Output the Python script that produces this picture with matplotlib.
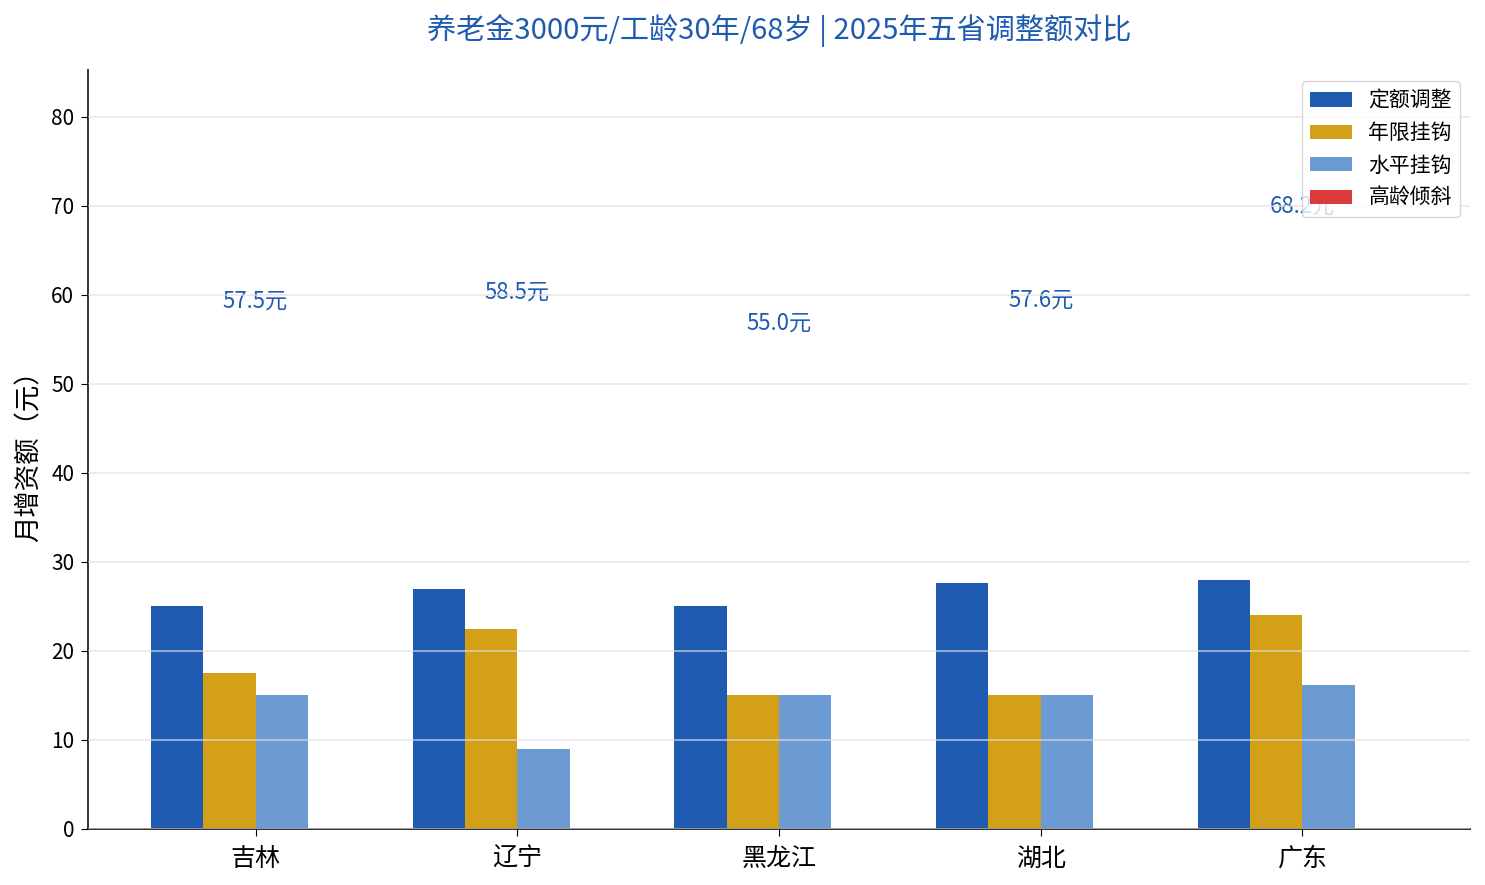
import numpy as np
import matplotlib
matplotlib.use("Agg")
import matplotlib.pyplot as plt

plt.rcParams['font.family'] = ['Noto Sans CJK SC', 'DejaVu Sans']

# 数据
provinces = ["吉林", "辽宁", "黑龙江", "湖北", "广东"]
series_names = ["定额调整", "年限挂钩", "水平挂钩", "高龄倾斜"]
fixed = [25.0, 27.0, 25.0, 27.6, 28.0]
years = [17.5, 22.5, 15.0, 15.0, 24.0]
level = [15.0, 9.0, 15.0, 15.0, 16.2]
elder = [0.0, 0.0, 0.0, 0.0, 0.0]
colors = ["#1f5bb0", "#d4a017", "#6b9bd2", "#d93a3a"]

values = [fixed, years, level, elder]
totals = np.sum(values, axis=0)

fig = plt.figure(figsize=(14.85, 8.85), dpi=100)
ax = fig.add_axes([0.0593, 0.0633, 0.9306, 0.8576])

x = np.arange(len(provinces))
width = 0.2
for i, (name, vals) in enumerate(zip(series_names, values)):
    offset = (i - 1.5) * width
    ax.bar(x + offset, vals, width, label=name, color=colors[i], zorder=2)

# 总额标注
for xi, t in zip(x, totals):
    ax.text(xi, t + 1.8, f"{t:.1f}元", ha="center", va="center",
            fontsize=16, color="#1f5bb0", zorder=1)

ax.set_ylim(0, totals.max() * 1.25)
ax.set_xticks(x)
ax.set_xticklabels(provinces, fontsize=18)
ax.tick_params(axis="x", length=5, pad=7)
ax.tick_params(axis="y", labelsize=15, length=5, pad=5)
ax.set_ylabel("月增资额（元）", fontsize=19, labelpad=6)
ax.set_title("养老金3000元/工龄30年/68岁 | 2025年五省调整额对比",
             fontsize=21, color="#1f5bb0", pad=22)

ax.grid(axis="y", color="#e0e0e0", alpha=0.7, linewidth=1.2, zorder=3)
ax.set_axisbelow(False)
ax.spines["top"].set_visible(False)
ax.spines["right"].set_visible(False)
for s in ("left", "bottom"):
    ax.spines[s].set_linewidth(1.3)
    ax.spines[s].set_color("#222222")

leg = ax.legend(loc="upper right", fontsize=15, framealpha=0.8,
                handlelength=2.0, handleheight=0.67, borderpad=0.4,
                labelspacing=0.5, borderaxespad=0,
                bbox_to_anchor=(0.993, 0.985))
leg.set_zorder(5)

fig.savefig("out.png", dpi=100)
